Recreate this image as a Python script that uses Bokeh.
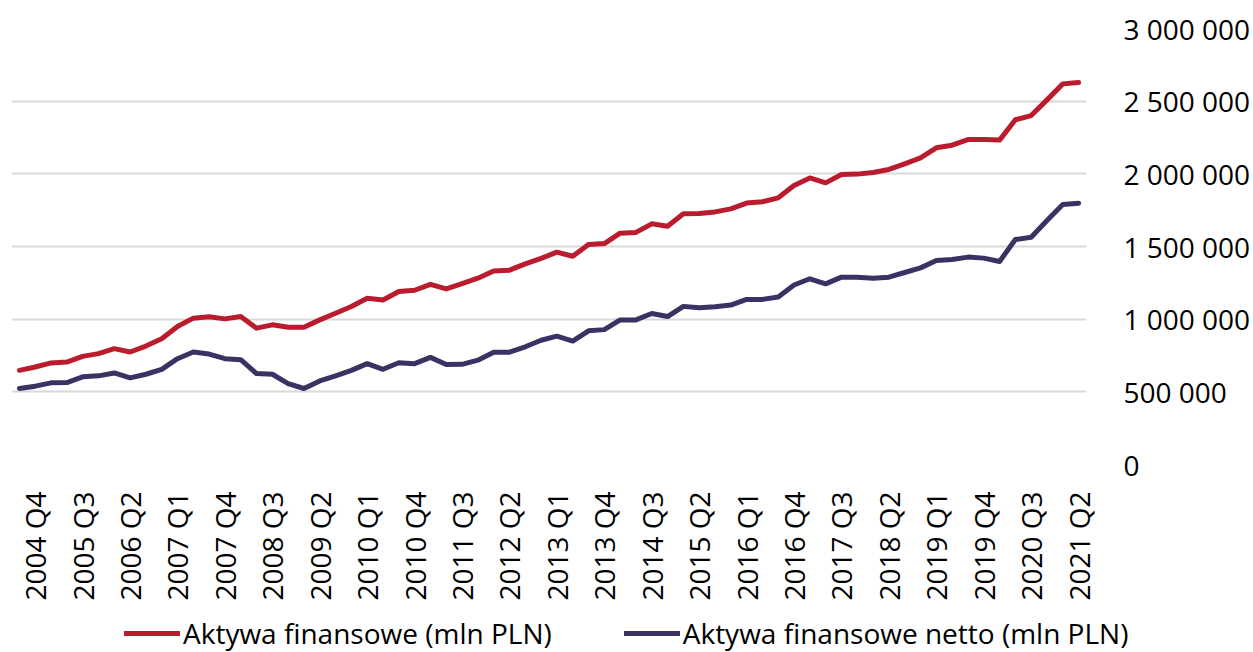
import math
from bokeh.plotting import figure
from bokeh.layouts import column
from bokeh.models import Range1d, FixedTicker, Legend, LegendItem, ColumnDataSource
from bokeh.embed import file_html
from bokeh.resources import INLINE

quarters = [
    "2004 Q3", "2004 Q4",
    "2005 Q1", "2005 Q2", "2005 Q3", "2005 Q4",
    "2006 Q1", "2006 Q2", "2006 Q3", "2006 Q4",
    "2007 Q1", "2007 Q2", "2007 Q3", "2007 Q4",
    "2008 Q1", "2008 Q2", "2008 Q3", "2008 Q4",
    "2009 Q1", "2009 Q2", "2009 Q3", "2009 Q4",
    "2010 Q1", "2010 Q2", "2010 Q3", "2010 Q4",
    "2011 Q1", "2011 Q2", "2011 Q3", "2011 Q4",
    "2012 Q1", "2012 Q2", "2012 Q3", "2012 Q4",
    "2013 Q1", "2013 Q2", "2013 Q3", "2013 Q4",
    "2014 Q1", "2014 Q2", "2014 Q3", "2014 Q4",
    "2015 Q1", "2015 Q2", "2015 Q3", "2015 Q4",
    "2016 Q1", "2016 Q2", "2016 Q3", "2016 Q4",
    "2017 Q1", "2017 Q2", "2017 Q3", "2017 Q4",
    "2018 Q1", "2018 Q2", "2018 Q3", "2018 Q4",
    "2019 Q1", "2019 Q2", "2019 Q3", "2019 Q4",
    "2020 Q1", "2020 Q2", "2020 Q3", "2020 Q4",
    "2021 Q1", "2021 Q2",
]

aktywa = [
    648000, 671000, 699000, 705000, 744000, 763000, 797000, 774000,
    815000, 865000, 950000, 1007000, 1016000, 1002000, 1018000, 938000,
    961000, 945000, 945000, 995000, 1041000, 1087000, 1144000, 1132000,
    1190000, 1199000, 1240000, 1208000, 1245000, 1282000, 1332000, 1337000,
    1380000, 1418000, 1461000, 1433000, 1513000, 1520000, 1592000, 1597000,
    1656000, 1639000, 1725000, 1727000, 1738000, 1759000, 1799000, 1808000,
    1835000, 1920000, 1972000, 1938000, 1995000, 1998000, 2009000, 2030000,
    2069000, 2110000, 2179000, 2197000, 2236000, 2236000, 2232000, 2372000,
    2401000, 2509000, 2619000, 2628000,
]

aktywa_netto = [
    523000, 539000, 562000, 564000, 603000, 610000, 630000, 596000,
    621000, 655000, 728000, 774000, 760000, 728000, 721000, 626000,
    621000, 557000, 523000, 575000, 610000, 648000, 694000, 655000,
    700000, 694000, 737000, 688000, 689000, 718000, 773000, 773000,
    810000, 855000, 883000, 849000, 920000, 928000, 995000, 995000,
    1039000, 1018000, 1088000, 1078000, 1085000, 1097000, 1136000, 1136000,
    1153000, 1235000, 1278000, 1243000, 1289000, 1289000, 1282000, 1289000,
    1321000, 1353000, 1404000, 1411000, 1427000, 1420000, 1397000, 1548000,
    1564000, 1679000, 1789000, 1798000,
]

x_tick_labels = [
    "2004 Q4", "2005 Q3", "2006 Q2", "2007 Q1", "2007 Q4", "2008 Q3",
    "2009 Q2", "2010 Q1", "2010 Q4", "2011 Q3", "2012 Q2", "2013 Q1",
    "2013 Q4", "2014 Q3", "2015 Q2", "2016 Q1", "2016 Q4", "2017 Q3",
    "2018 Q2", "2019 Q1", "2019 Q4", "2020 Q3", "2021 Q2",
]

y_ticks = [0, 500000, 1000000, 1500000, 2000000, 2500000, 3000000]
y_tick_labels = ["0", "500 000", "1 000 000", "1 500 000", "2 000 000", "2 500 000", "3 000 000"]

series_labels = ["Aktywa finansowe (mln PLN)", "Aktywa finansowe netto (mln PLN)"]

FONT = "Open Sans"
RED = "#BA1B2D"
NAVY = "#3B3162"
LW = 5

idx = list(range(len(quarters)))
src = ColumnDataSource(dict(x=idx, a=aktywa, n=aktywa_netto, q=quarters))

p = figure(
    width=1253, height=612,
    x_range=Range1d(-0.5, len(quarters) - 0.5),
    y_range=Range1d(0, 3000000),
    y_axis_location="right",
    output_backend="svg", toolbar_location=None,
    min_border_left=11, min_border_top=28, min_border_right=160, min_border_bottom=148,
)
p.outline_line_color = None
p.background_fill_color = "white"
p.border_fill_color = "white"

r1 = p.line("x", "a", source=src, line_color=RED, line_width=LW,
            line_cap="round", line_join="round")
r2 = p.line("x", "n", source=src, line_color=NAVY, line_width=LW,
            line_cap="round", line_join="round")

# x axis
tick_pos = [quarters.index(t) for t in x_tick_labels]
xa = p.xaxis[0]
xa.ticker = FixedTicker(ticks=tick_pos)
xa.major_label_overrides = {pos: lab for pos, lab in zip(tick_pos, x_tick_labels)}
xa.major_label_orientation = math.pi / 2
xa.axis_line_color = None
xa.major_tick_line_color = None
xa.minor_tick_line_color = None
xa.major_label_standoff = 21
xa.major_label_text_font = FONT
xa.major_label_text_font_size = "28px"
xa.major_label_text_color = "#000000"

# y axis
ya = p.yaxis[0]
ya.ticker = FixedTicker(ticks=y_ticks)
ya.major_label_overrides = {t: lab for t, lab in zip(y_ticks, y_tick_labels)}
ya.axis_line_color = None
ya.major_tick_line_color = None
ya.minor_tick_line_color = None
ya.major_label_standoff = 31
ya.major_label_text_font = FONT
ya.major_label_text_font_size = "28px"
ya.major_label_text_color = "#000000"

p.xgrid.grid_line_color = None
p.ygrid.ticker = FixedTicker(ticks=y_ticks)
p.ygrid.grid_line_color = "#D9D9D9"
p.ygrid.grid_line_width = 2

# legend strip below the chart (its own frame covers the whole strip)
lf = figure(
    width=1253, height=40,
    x_range=Range1d(-0.5, len(quarters) - 0.5), y_range=Range1d(0, 1),
    x_axis_type=None, y_axis_type=None,
    output_backend="svg", toolbar_location=None,
    min_border_left=0, min_border_right=0, min_border_top=0, min_border_bottom=0,
)
lf.outline_line_color = None
lf.xgrid.visible = False
lf.ygrid.visible = False
# same series drawn out of this strip's view; they only feed the legend swatches
lr1 = lf.line("x", "a", source=src, line_color=RED, line_width=LW, line_cap="round")
lr2 = lf.line("x", "n", source=src, line_color=NAVY, line_width=LW, line_cap="round")

if "frame_align" in lf.properties():
    lf.frame_align = False
    p.frame_align = False

legend = Legend(
    items=[LegendItem(label=series_labels[0], renderers=[lr1]),
           LegendItem(label=series_labels[1], renderers=[lr2])],
    orientation="horizontal",
    location=(124, 0),
    glyph_width=56, glyph_height=30, label_height=30,
    label_standoff=3, spacing=72, padding=0, margin=0,
    border_line_color=None, background_fill_alpha=0,
    label_text_font=FONT, label_text_font_size="28px", label_text_color="#000000",
)
lf.add_layout(legend)

layout = column(p, lf, spacing=0)
open("out.html", "w").write(file_html(layout, INLINE))
